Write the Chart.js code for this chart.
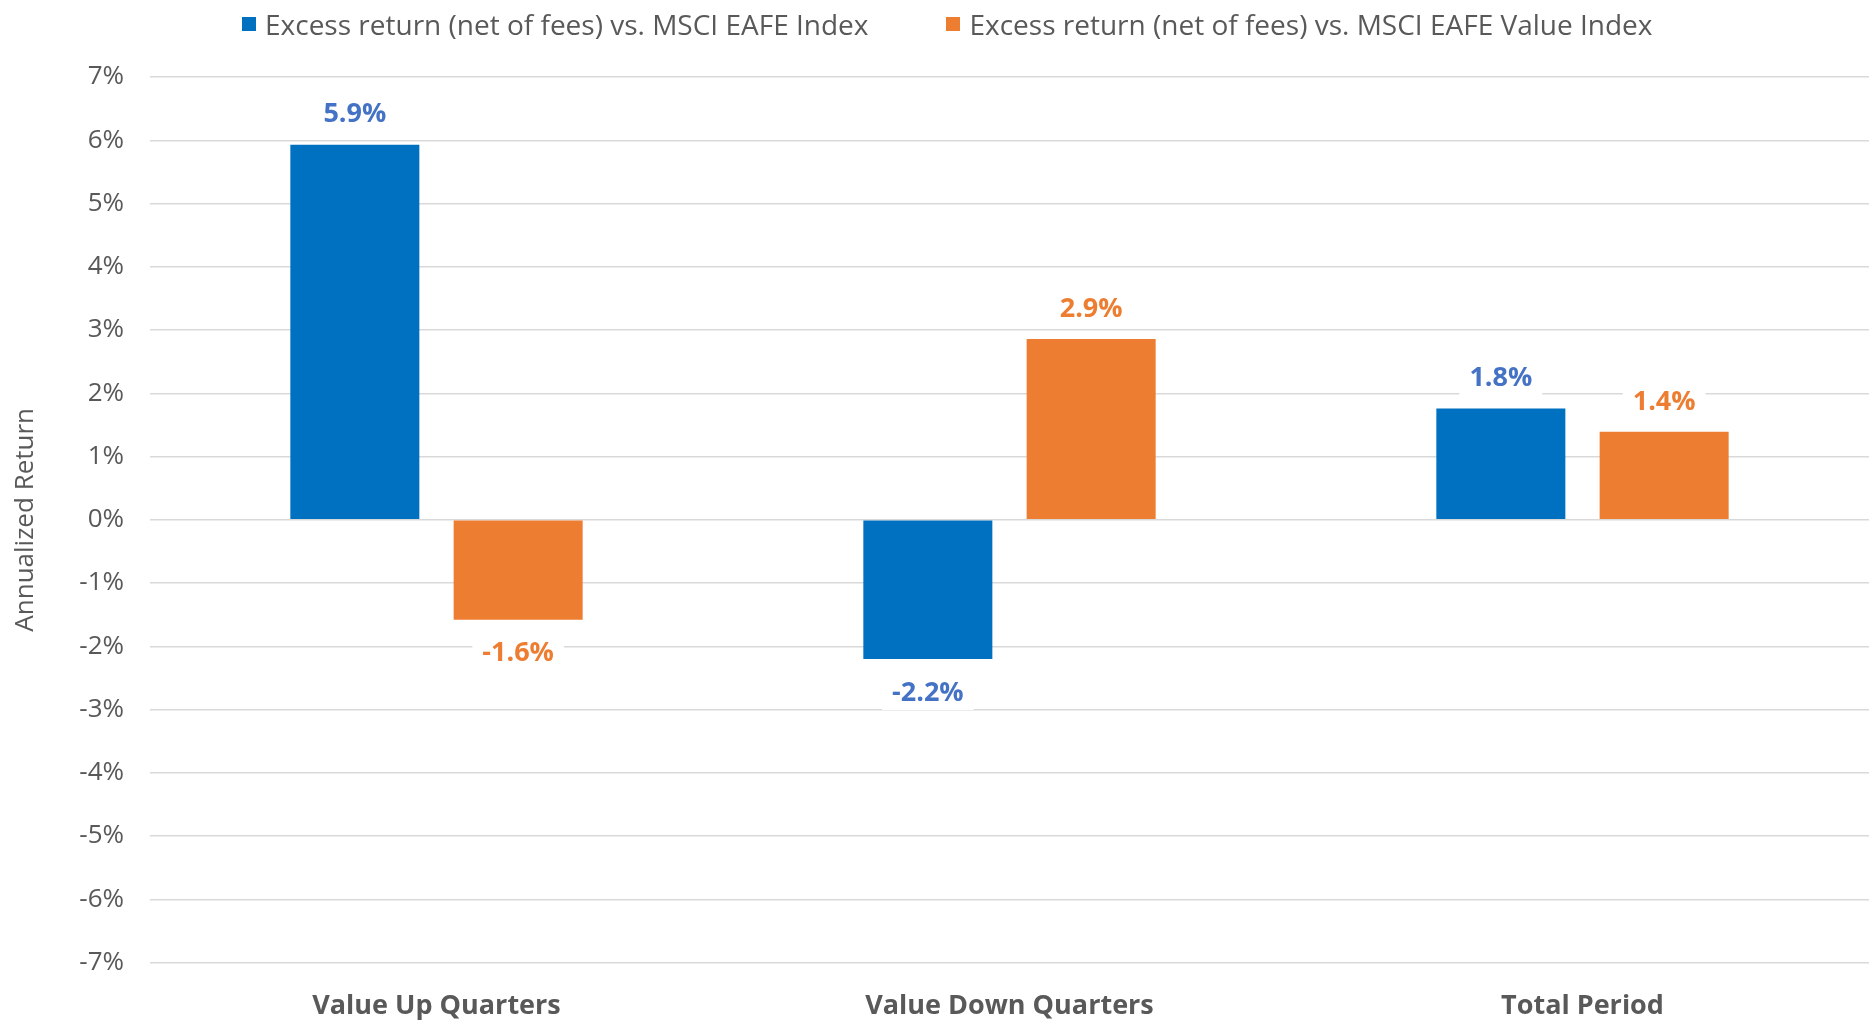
<!DOCTYPE html>
<html>
<head>
<meta charset="utf-8">
<script src="https://cdn.jsdelivr.net/npm/chart.js@4"></script>
<style>
  html, body { margin: 0; padding: 0; background: #fff; }
  #wrap { position: relative; width: 1873px; height: 1020px; }
  #legend { position: absolute; left: 242px; top: 6px; display: flex; align-items: center;
            font-family: "Open Sans", sans-serif; font-size: 28px; color: #595959; line-height: 36px; }
  #legend .item { display: flex; align-items: center; margin-right: 78px; white-space: nowrap; }
  #legend .box { width: 14px; height: 14px; margin-right: 9px; }
</style>
</head>
<body>
<div id="wrap">
  <canvas id="returnsChart" width="1873" height="1020"></canvas>
  <div id="legend"></div>
</div>
<script>
const categories = ['Value Up Quarters', 'Value Down Quarters', 'Total Period'];
const vsEafe = [5.93, -2.2, 1.76];        // blauw
const vsEafeValue = [-1.58, 2.86, 1.39];  // oranje
const seriesNames = [
  'Excess return (net of fees) vs. MSCI EAFE Index',
  'Excess return (net of fees) vs. MSCI EAFE Value Index'
];
const fontFamily = '"Open Sans", sans-serif';
const labelColors = ['#4472C4', '#ED7D31'];

// labels boven/onder de balken met witte achtergrond
const barLabels = {
  id: 'barLabels',
  afterDatasetsDraw(chart) {
    const ctx = chart.ctx;
    ctx.save();
    ctx.font = 'bold 27px ' + fontFamily;
    ctx.textAlign = 'center';
    ctx.textBaseline = 'middle';
    chart.data.datasets.forEach((ds, i) => {
      chart.getDatasetMeta(i).data.forEach((bar, j) => {
        const v = ds.data[j];
        const txt = v.toFixed(1) + '%';
        const y = v >= 0 ? bar.y - 30 : bar.y + 34;
        const w = ctx.measureText(txt).width + 20;
        ctx.fillStyle = '#fff';
        ctx.fillRect(bar.x - w / 2, y - 17, w, 34);
        ctx.fillStyle = labelColors[i];
        ctx.fillText(txt, bar.x, y);
      });
    });
    ctx.restore();
  }
};

const ctx = document.getElementById('returnsChart').getContext('2d');
const returnsChart = new Chart(ctx, {
  type: 'bar',
  data: {
    labels: categories,
    datasets: [{
      label: seriesNames[0],
      data: vsEafe,
      backgroundColor: '#0070C0',
      categoryPercentage: 0.57,
      barPercentage: 0.79
    }, {
      label: seriesNames[1],
      data: vsEafeValue,
      backgroundColor: '#ED7D31',
      categoryPercentage: 0.57,
      barPercentage: 0.79
    }]
  },
  options: {
    responsive: false,
    animation: false,
    layout: { padding: { left: 10, right: 4, top: 77, bottom: -23 } },
    plugins: {
      legend: { display: false },
      tooltip: { enabled: false }
    },
    scales: {
      x: {
        grid: { display: false },
        border: { display: false },
        ticks: {
          color: '#595959',
          padding: 20,
          font: { family: fontFamily, size: 27, weight: 'bold' }
        }
      },
      y: {
        min: -7,
        max: 7,
        afterFit(scale) { scale.width = 140; },
        grid: { color: '#d9d9d9', lineWidth: 1.5, drawTicks: false },
        border: { display: false },
        ticks: {
          stepSize: 1,
          padding: 26,
          color: '#595959',
          font: { family: fontFamily, size: 26 },
          callback: v => v + '%'
        },
        title: {
          display: true,
          text: 'Annualized Return',
          color: '#595959',
          padding: 0,
          font: { family: fontFamily, size: 26 }
        }
      }
    }
  },
  plugins: [barLabels]
});

// legenda als HTML, opgebouwd uit de datasets
const legendEl = document.getElementById('legend');
returnsChart.data.datasets.forEach(ds => {
  const item = document.createElement('div');
  item.className = 'item';
  const box = document.createElement('span');
  box.className = 'box';
  box.style.background = ds.backgroundColor;
  item.appendChild(box);
  item.appendChild(document.createTextNode(ds.label));
  legendEl.appendChild(item);
});
</script>
</body>
</html>
